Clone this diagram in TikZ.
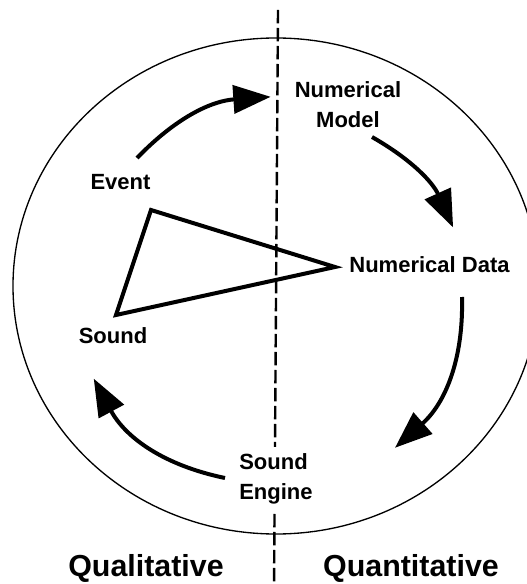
\documentclass[tikz,border=0pt]{standalone}
\usepackage{fontspec}
\setmainfont{Liberation Sans}
\usetikzlibrary{arrows.meta}
\tikzset{
  lbl/.style={font=\bfseries\fontsize{16.5}{22.5}\selectfont, inner sep=0pt, align=center},
  biglbl/.style={font=\bfseries\fontsize{22.8}{26}\selectfont, inner sep=0pt},
  flow/.style={line width=3pt, -{Triangle[length=28pt,width=21pt]}, shorten >=-2pt},
  tri/.style={line width=3pt, line join=miter},
  divider/.style={line width=1.8pt, dash pattern=on 10pt off 3.5pt},
  ring/.style={line width=1pt}
}
\begin{document}
\begin{tikzpicture}[x=0.75pt,y=-0.75pt]
\clip (0,0) rectangle (527,584);
\fill[white] (0,0) rectangle (527,584);
% outer ring
\draw[ring] (276,286) ellipse [x radius=263, y radius=248];
% divider
\coordinate (dtop) at (278,10);
\coordinate (dbot) at (274,590);
\draw[divider] (dtop) -- (dbot);
% labels
\node[lbl] (model) at (348,105) {Numerical\\Model};
\node[lbl] (event) at (120.5,182.5) {Event};
\node[lbl] (data) at (429.5,265) {Numerical Data};
\node[lbl] (sound) at (113,336) {Sound};
\node[lbl, align=left, anchor=west, fill=white, inner ysep=5pt] (engine) at (239,479) {Sound\\Engine};
\node[biglbl] (qual) at (146,568) {Qualitative};
\node[biglbl] (quant) at (411,568) {Quantitative};
% triangle
\coordinate (ta) at (151,210);
\coordinate (tb) at (335,267);
\coordinate (tc) at (116,315);
\draw[tri] (ta) -- (tb) -- (tc) -- cycle;
% arrows
\coordinate (a1s) at (137,158);
\coordinate (a1e) at (268,97);
\coordinate (a2s) at (372,137);
\coordinate (a2e) at (452,225);
\coordinate (a3s) at (462,297);
\coordinate (a3e) at (397,446);
\coordinate (a4s) at (225,478);
\coordinate (a4e) at (95,381);
\draw[flow] (a1s) to[bend left=21] (a1e);
\draw[flow] (a2s) to[bend left=18] (a2e);
\draw[flow] (a3s) to[bend left=25] (a3e);
\draw[flow] (a4s) to[bend left=25] (a4e);
\end{tikzpicture}
\end{document}
